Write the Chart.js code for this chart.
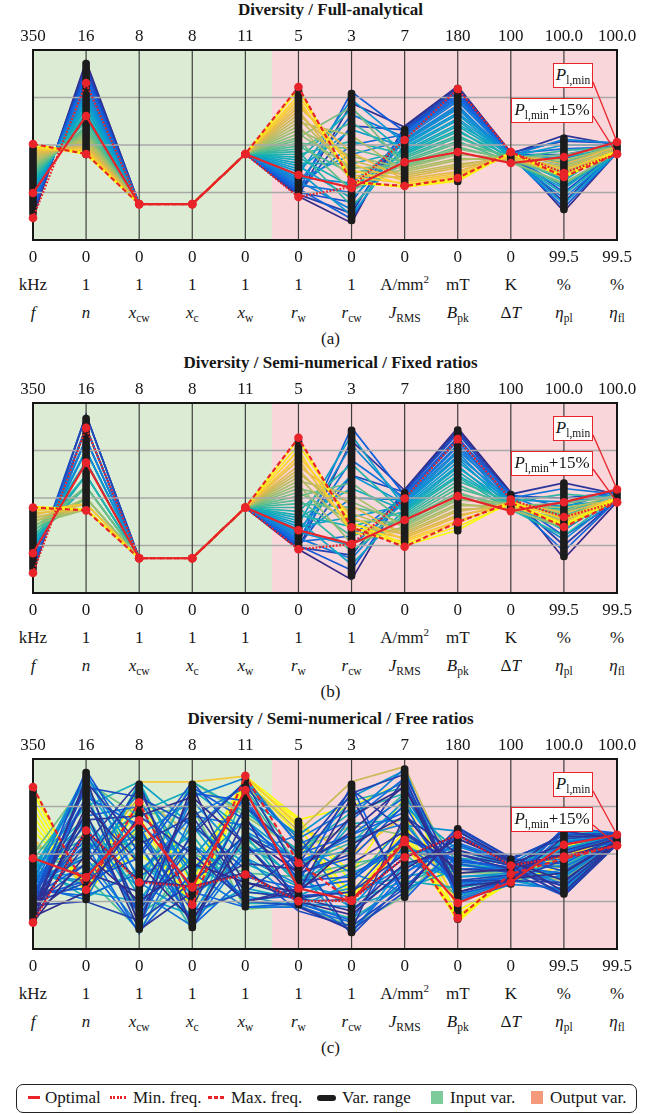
<!DOCTYPE html>
<html>
<head>
<meta charset="utf-8">
<script src="https://cdn.jsdelivr.net/npm/chart.js@4.4.1/dist/chart.umd.min.js"></script>
<style>
  html, body { margin: 0; padding: 0; background: #fff; }
  body { width: 661px; height: 1114px; position: relative; overflow: hidden;
         font-family: "Liberation Serif", "Tinos", "Nimbus Roman", "FreeSerif", "Times New Roman", "Times", "Noto Serif", "DejaVu Serif", serif;
         color: #161616; }
  .panel { position: absolute; left: 0; width: 661px; height: 352px; }
  .panel canvas { position: absolute; left: 0; top: 24px; }
  .title { position: absolute; left: 0; top: 0; width: 661px; text-align: center;
           font-weight: bold; font-size: 17px; line-height: 20px; }
  .cell { position: absolute; transform: translateX(-50%); white-space: nowrap;
          font-size: 17px; line-height: 20px; text-align: center; }
  .name { font-style: italic; }
  .name sub, .note sub { font-style: normal; font-size: 11.5px; vertical-align: baseline;
                         position: relative; top: 4px; }
  .unit sup { font-size: 11px; vertical-align: baseline; position: relative; top: -7px; }
  .up { font-style: normal; }
  .tag { position: absolute; left: 0; width: 661px; text-align: center; font-size: 17px; line-height: 20px; }
  .note { position: absolute; box-sizing: border-box; height: 25px; background: #fff;
          border: 1.6px solid #E8232A; font-size: 17px; line-height: 21px; text-align: center;
          white-space: nowrap; }
  .legend-box { position: absolute; left: 16px; top: 1084px; width: 621px; height: 29px;
                box-sizing: border-box; border: 1.6px solid #222; border-radius: 7px; }
  .lg { position: absolute; }
  .lg-text { position: absolute; top: 1088px; font-size: 17px; line-height: 20px; white-space: nowrap; }
</style>
</head>
<body>
<div id="pa" class="panel" style="top:0px"></div>
<div id="pb" class="panel" style="top:353px"></div>
<div id="pc" class="panel" style="top:709px"></div>

<div class="legend-box"></div>
<div class="lg" style="left:28px;top:1096px;width:12px;height:3px;background:#E8232A"></div>
<div class="lg-text" style="left:45px">Optimal</div>
<div class="lg" style="left:110px;top:1096px;width:17px;height:3px;background:repeating-linear-gradient(90deg,#E8232A 0 2px,transparent 2px 3.4px)"></div>
<div class="lg-text" style="left:133px">Min. freq.</div>
<div class="lg" style="left:208px;top:1096px;width:16px;height:3px;background:repeating-linear-gradient(90deg,#E8232A 0 4px,transparent 4px 6px)"></div>
<div class="lg-text" style="left:231px">Max. freq.</div>
<div class="lg" style="left:317px;top:1095px;width:19px;height:6px;border-radius:3px;background:#1c1c1c"></div>
<div class="lg-text" style="left:342px">Var. range</div>
<div class="lg" style="left:431px;top:1091px;width:12px;height:13px;background:#7DCB9B"></div>
<div class="lg-text" style="left:450px">Input var.</div>
<div class="lg" style="left:531px;top:1091px;width:12px;height:13px;background:#F5997B"></div>
<div class="lg-text" style="left:550px">Output var.</div>

<script>
// ---- axes of the parallel-coordinates plots ----
const AXIS_KEYS = ['f', 'n', 'x_cw', 'x_c', 'x_w', 'r_w', 'r_cw', 'J_RMS', 'B_pk', 'dT', 'eta_pl', 'eta_fl'];
const TOP_TICKS = ['350', '16', '8', '8', '11', '5', '3', '7', '180', '100', '100.0', '100.0'];
const BOTTOM_TICKS = ['0', '0', '0', '0', '0', '0', '0', '0', '0', '0', '99.5', '99.5'];
const UNITS = ['kHz', '1', '1', '1', '1', '1', '1', 'A/mm<sup>2</sup>', 'mT', 'K', '%', '%'];
const NAMES = ['f', 'n', 'x<sub>cw</sub>', 'x<sub>c</sub>', 'x<sub>w</sub>', 'r<sub>w</sub>', 'r<sub>cw</sub>',
               'J<sub>RMS</sub>', 'B<sub>pk</sub>', '<span class="up">Δ</span>T', 'η<sub>pl</sub>', 'η<sub>fl</sub>'];
const GRID_LEVELS = [0.25, 0.5, 0.75];
const INPUT_AXES = 5;   // f .. x_w are inputs, the rest are outputs

// ---- (a) Full-analytical (values normalised to each axis range) ----
const optimalA = [0.247, 0.653, 0.189, 0.189, 0.453, 0.342, 0.274, 0.410, 0.463, 0.405, 0.437, 0.516];
const minFreqA = [0.116, 0.826, 0.189, 0.189, 0.453, 0.226, 0.280, 0.526, 0.795, 0.463, 0.353, 0.453];
const maxFreqA = [0.505, 0.453, 0.189, 0.189, 0.453, 0.805, 0.305, 0.284, 0.326, 0.463, 0.332, 0.453];
const rangeLoA = [0.121, 0.432, 0.189, 0.189, 0.453, 0.226, 0.084, 0.274, 0.290, 0.405, 0.142, 0.453];
const rangeHiA = [0.500, 0.947, 0.189, 0.189, 0.453, 0.805, 0.789, 0.600, 0.816, 0.463, 0.553, 0.516];
const designsA = [
  [0.12, 0.94, 0.189, 0.189, 0.453, 0.23, 0.09, 0.60, 0.81, 0.46, 0.15, 0.46],
  [0.13, 0.93, 0.189, 0.189, 0.453, 0.235, 0.72, 0.595, 0.805, 0.455, 0.55, 0.50],
  [0.14, 0.91, 0.189, 0.189, 0.453, 0.24, 0.14, 0.59, 0.80, 0.45, 0.20, 0.47],
  [0.15, 0.90, 0.189, 0.189, 0.453, 0.245, 0.60, 0.58, 0.79, 0.46, 0.52, 0.51],
  [0.16, 0.88, 0.189, 0.189, 0.453, 0.25, 0.20, 0.575, 0.78, 0.445, 0.25, 0.47],
  [0.17, 0.87, 0.189, 0.189, 0.453, 0.26, 0.78, 0.57, 0.77, 0.45, 0.45, 0.50],
  [0.18, 0.85, 0.189, 0.189, 0.453, 0.27, 0.11, 0.56, 0.76, 0.44, 0.17, 0.46],
  [0.19, 0.84, 0.189, 0.189, 0.453, 0.28, 0.50, 0.555, 0.75, 0.455, 0.48, 0.49],
  [0.20, 0.82, 0.189, 0.189, 0.453, 0.29, 0.25, 0.55, 0.74, 0.44, 0.28, 0.47],
  [0.21, 0.81, 0.189, 0.189, 0.453, 0.30, 0.66, 0.54, 0.73, 0.45, 0.40, 0.50],
  [0.22, 0.79, 0.189, 0.189, 0.453, 0.31, 0.16, 0.53, 0.71, 0.43, 0.22, 0.46],
  [0.23, 0.78, 0.189, 0.189, 0.453, 0.32, 0.45, 0.525, 0.70, 0.445, 0.53, 0.51],
  [0.24, 0.76, 0.189, 0.189, 0.453, 0.33, 0.30, 0.52, 0.69, 0.43, 0.32, 0.48],
  [0.25, 0.75, 0.189, 0.189, 0.453, 0.345, 0.74, 0.51, 0.67, 0.45, 0.43, 0.49],
  [0.26, 0.73, 0.189, 0.189, 0.453, 0.36, 0.13, 0.50, 0.66, 0.435, 0.19, 0.46],
  [0.27, 0.72, 0.189, 0.189, 0.453, 0.375, 0.58, 0.49, 0.64, 0.44, 0.50, 0.50],
  [0.28, 0.70, 0.189, 0.189, 0.453, 0.39, 0.22, 0.48, 0.63, 0.42, 0.27, 0.47],
  [0.29, 0.69, 0.189, 0.189, 0.453, 0.405, 0.40, 0.47, 0.61, 0.45, 0.37, 0.49],
  [0.30, 0.67, 0.189, 0.189, 0.453, 0.42, 0.69, 0.46, 0.60, 0.43, 0.24, 0.46],
  [0.31, 0.66, 0.189, 0.189, 0.453, 0.435, 0.28, 0.455, 0.58, 0.41, 0.44, 0.48],
  [0.32, 0.64, 0.189, 0.189, 0.453, 0.45, 0.52, 0.45, 0.57, 0.44, 0.31, 0.50],
  [0.33, 0.63, 0.189, 0.189, 0.453, 0.465, 0.18, 0.44, 0.55, 0.42, 0.36, 0.47],
  [0.34, 0.62, 0.189, 0.189, 0.453, 0.48, 0.62, 0.43, 0.54, 0.43, 0.47, 0.49],
  [0.35, 0.60, 0.189, 0.189, 0.453, 0.495, 0.35, 0.42, 0.52, 0.41, 0.29, 0.46],
  [0.36, 0.59, 0.189, 0.189, 0.453, 0.51, 0.48, 0.41, 0.51, 0.44, 0.41, 0.50],
  [0.37, 0.58, 0.189, 0.189, 0.453, 0.525, 0.26, 0.40, 0.49, 0.42, 0.33, 0.47],
  [0.38, 0.57, 0.189, 0.189, 0.453, 0.54, 0.70, 0.39, 0.48, 0.43, 0.45, 0.49],
  [0.39, 0.56, 0.189, 0.189, 0.453, 0.56, 0.38, 0.385, 0.46, 0.41, 0.30, 0.46],
  [0.40, 0.55, 0.189, 0.189, 0.453, 0.58, 0.44, 0.38, 0.45, 0.43, 0.39, 0.48],
  [0.41, 0.54, 0.189, 0.189, 0.453, 0.60, 0.32, 0.37, 0.43, 0.42, 0.35, 0.47],
  [0.42, 0.53, 0.189, 0.189, 0.453, 0.62, 0.55, 0.36, 0.42, 0.44, 0.42, 0.49],
  [0.43, 0.52, 0.189, 0.189, 0.453, 0.64, 0.36, 0.35, 0.40, 0.43, 0.34, 0.46],
  [0.44, 0.51, 0.189, 0.189, 0.453, 0.66, 0.42, 0.34, 0.39, 0.44, 0.38, 0.48],
  [0.45, 0.50, 0.189, 0.189, 0.453, 0.68, 0.34, 0.33, 0.38, 0.43, 0.36, 0.47],
  [0.46, 0.49, 0.189, 0.189, 0.453, 0.70, 0.46, 0.32, 0.36, 0.45, 0.40, 0.49],
  [0.47, 0.48, 0.189, 0.189, 0.453, 0.72, 0.40, 0.31, 0.35, 0.44, 0.34, 0.46],
  [0.48, 0.47, 0.189, 0.189, 0.453, 0.74, 0.33, 0.30, 0.34, 0.45, 0.37, 0.47],
  [0.49, 0.46, 0.189, 0.189, 0.453, 0.76, 0.37, 0.29, 0.33, 0.46, 0.33, 0.46],
  [0.50, 0.45, 0.189, 0.189, 0.453, 0.79, 0.31, 0.28, 0.31, 0.46, 0.34, 0.47],
  [0.505, 0.455, 0.189, 0.189, 0.453, 0.80, 0.30, 0.28, 0.32, 0.46, 0.33, 0.46]
];

// ---- (b) Semi-numerical / fixed ratios ----
const optimalB = [0.209, 0.686, 0.183, 0.183, 0.450, 0.330, 0.257, 0.384, 0.510, 0.431, 0.478, 0.545];
const minFreqB = [0.105, 0.869, 0.183, 0.183, 0.450, 0.230, 0.257, 0.497, 0.810, 0.492, 0.400, 0.478];
const maxFreqB = [0.450, 0.435, 0.183, 0.183, 0.450, 0.817, 0.346, 0.243, 0.373, 0.476, 0.347, 0.478];
const rangeLoB = [0.110, 0.440, 0.183, 0.183, 0.450, 0.230, 0.073, 0.248, 0.309, 0.419, 0.174, 0.478];
const rangeHiB = [0.455, 0.937, 0.183, 0.183, 0.450, 0.817, 0.874, 0.545, 0.876, 0.536, 0.597, 0.545];
const designsB = [
  [0.11, 0.937, 0.183, 0.183, 0.450, 0.23, 0.07, 0.545, 0.87, 0.53, 0.18, 0.48],
  [0.12, 0.937, 0.183, 0.183, 0.450, 0.235, 0.80, 0.54, 0.86, 0.52, 0.58, 0.52],
  [0.13, 0.87, 0.183, 0.183, 0.450, 0.24, 0.20, 0.535, 0.85, 0.50, 0.25, 0.49],
  [0.14, 0.937, 0.183, 0.183, 0.450, 0.245, 0.62, 0.53, 0.84, 0.51, 0.50, 0.53],
  [0.15, 0.87, 0.183, 0.183, 0.450, 0.25, 0.12, 0.52, 0.82, 0.49, 0.30, 0.48],
  [0.16, 0.81, 0.183, 0.183, 0.450, 0.26, 0.87, 0.515, 0.81, 0.52, 0.45, 0.54],
  [0.17, 0.87, 0.183, 0.183, 0.450, 0.27, 0.30, 0.51, 0.80, 0.48, 0.22, 0.49],
  [0.18, 0.81, 0.183, 0.183, 0.450, 0.28, 0.70, 0.50, 0.78, 0.50, 0.55, 0.52],
  [0.19, 0.75, 0.183, 0.183, 0.450, 0.29, 0.18, 0.495, 0.77, 0.47, 0.35, 0.49],
  [0.20, 0.81, 0.183, 0.183, 0.450, 0.30, 0.50, 0.49, 0.75, 0.51, 0.40, 0.53],
  [0.21, 0.75, 0.183, 0.183, 0.450, 0.31, 0.78, 0.48, 0.74, 0.46, 0.28, 0.50],
  [0.22, 0.69, 0.183, 0.183, 0.450, 0.32, 0.25, 0.475, 0.72, 0.49, 0.48, 0.52],
  [0.23, 0.75, 0.183, 0.183, 0.450, 0.335, 0.62, 0.47, 0.71, 0.45, 0.38, 0.50],
  [0.24, 0.69, 0.183, 0.183, 0.450, 0.35, 0.40, 0.46, 0.69, 0.48, 0.33, 0.51],
  [0.25, 0.62, 0.183, 0.183, 0.450, 0.365, 0.83, 0.45, 0.67, 0.44, 0.46, 0.49],
  [0.26, 0.69, 0.183, 0.183, 0.450, 0.38, 0.15, 0.44, 0.66, 0.47, 0.42, 0.52],
  [0.27, 0.62, 0.183, 0.183, 0.450, 0.395, 0.55, 0.435, 0.64, 0.45, 0.36, 0.50],
  [0.28, 0.56, 0.183, 0.183, 0.450, 0.41, 0.35, 0.43, 0.62, 0.46, 0.44, 0.49],
  [0.29, 0.62, 0.183, 0.183, 0.450, 0.43, 0.68, 0.42, 0.61, 0.44, 0.30, 0.51],
  [0.30, 0.56, 0.183, 0.183, 0.450, 0.45, 0.22, 0.41, 0.59, 0.48, 0.52, 0.50],
  [0.31, 0.50, 0.183, 0.183, 0.450, 0.47, 0.45, 0.40, 0.57, 0.45, 0.37, 0.52],
  [0.32, 0.56, 0.183, 0.183, 0.450, 0.49, 0.30, 0.39, 0.55, 0.47, 0.41, 0.49],
  [0.33, 0.50, 0.183, 0.183, 0.450, 0.51, 0.58, 0.38, 0.53, 0.44, 0.34, 0.50],
  [0.34, 0.56, 0.183, 0.183, 0.450, 0.53, 0.38, 0.37, 0.52, 0.46, 0.47, 0.51],
  [0.35, 0.50, 0.183, 0.183, 0.450, 0.55, 0.48, 0.36, 0.50, 0.45, 0.39, 0.49],
  [0.36, 0.44, 0.183, 0.183, 0.450, 0.57, 0.26, 0.35, 0.49, 0.47, 0.43, 0.52],
  [0.37, 0.50, 0.183, 0.183, 0.450, 0.59, 0.52, 0.34, 0.47, 0.44, 0.35, 0.50],
  [0.38, 0.44, 0.183, 0.183, 0.450, 0.61, 0.33, 0.33, 0.46, 0.46, 0.45, 0.49],
  [0.39, 0.47, 0.183, 0.183, 0.450, 0.63, 0.42, 0.32, 0.44, 0.45, 0.38, 0.51],
  [0.40, 0.44, 0.183, 0.183, 0.450, 0.65, 0.36, 0.31, 0.43, 0.47, 0.40, 0.50],
  [0.41, 0.47, 0.183, 0.183, 0.450, 0.67, 0.46, 0.30, 0.41, 0.46, 0.36, 0.49],
  [0.42, 0.44, 0.183, 0.183, 0.450, 0.70, 0.34, 0.29, 0.40, 0.48, 0.42, 0.50],
  [0.43, 0.47, 0.183, 0.183, 0.450, 0.72, 0.40, 0.28, 0.38, 0.47, 0.37, 0.51],
  [0.44, 0.44, 0.183, 0.183, 0.450, 0.75, 0.32, 0.27, 0.37, 0.48, 0.39, 0.50],
  [0.45, 0.44, 0.183, 0.183, 0.450, 0.78, 0.37, 0.26, 0.35, 0.47, 0.35, 0.49],
  [0.455, 0.44, 0.183, 0.183, 0.450, 0.81, 0.35, 0.25, 0.33, 0.48, 0.36, 0.50]
];

// ---- (c) Semi-numerical / free ratios ----
const optimalC = [0.478, 0.377, 0.677, 0.324, 0.836, 0.319, 0.254, 0.563, 0.242, 0.351, 0.549, 0.601];
const minFreqC = [0.139, 0.624, 0.351, 0.328, 0.392, 0.252, 0.254, 0.483, 0.601, 0.439, 0.487, 0.545];
const maxFreqC = [0.853, 0.312, 0.772, 0.233, 0.912, 0.453, 0.254, 0.575, 0.162, 0.395, 0.475, 0.545];
const rangeLoC = [0.140, 0.242, 0.086, 0.095, 0.205, 0.215, 0.069, 0.254, 0.139, 0.324, 0.272, 0.545];
const rangeHiC = [0.850, 0.947, 0.885, 0.885, 0.910, 0.690, 0.885, 0.965, 0.651, 0.492, 0.642, 0.620];
const designsC = [
  [0.14, 0.50, 0.25, 0.45, 0.35, 0.30, 0.55, 0.70, 0.40, 0.42, 0.50, 0.58],
  [0.15, 0.62, 0.36, 0.33, 0.40, 0.25, 0.26, 0.48, 0.60, 0.44, 0.49, 0.55],
  [0.16, 0.75, 0.45, 0.15, 0.60, 0.40, 0.70, 0.85, 0.30, 0.37, 0.40, 0.57],
  [0.17, 0.30, 0.70, 0.80, 0.55, 0.25, 0.18, 0.42, 0.58, 0.46, 0.36, 0.56],
  [0.18, 0.90, 0.12, 0.86, 0.25, 0.30, 0.80, 0.30, 0.62, 0.47, 0.30, 0.56],
  [0.19, 0.40, 0.30, 0.75, 0.35, 0.27, 0.20, 0.45, 0.52, 0.45, 0.55, 0.60],
  [0.19, 0.72, 0.10, 0.30, 0.45, 0.42, 0.62, 0.86, 0.33, 0.36, 0.59, 0.60],
  [0.20, 0.55, 0.88, 0.10, 0.70, 0.22, 0.10, 0.70, 0.50, 0.42, 0.62, 0.58],
  [0.21, 0.68, 0.70, 0.50, 0.25, 0.32, 0.45, 0.62, 0.42, 0.41, 0.33, 0.56],
  [0.21, 0.88, 0.55, 0.70, 0.30, 0.27, 0.30, 0.50, 0.50, 0.44, 0.28, 0.55],
  [0.22, 0.80, 0.20, 0.60, 0.88, 0.40, 0.50, 0.90, 0.30, 0.36, 0.35, 0.57],
  [0.23, 0.25, 0.15, 0.35, 0.60, 0.45, 0.82, 0.92, 0.36, 0.36, 0.47, 0.58],
  [0.23, 0.45, 0.85, 0.22, 0.75, 0.50, 0.84, 0.62, 0.36, 0.39, 0.52, 0.59],
  [0.24, 0.35, 0.60, 0.20, 0.30, 0.50, 0.07, 0.35, 0.64, 0.48, 0.58, 0.60],
  [0.25, 0.85, 0.80, 0.65, 0.42, 0.20, 0.12, 0.32, 0.60, 0.47, 0.60, 0.61],
  [0.25, 0.62, 0.18, 0.55, 0.25, 0.23, 0.10, 0.30, 0.63, 0.48, 0.41, 0.57],
  [0.26, 0.94, 0.50, 0.88, 0.55, 0.28, 0.30, 0.60, 0.45, 0.40, 0.28, 0.55],
  [0.27, 0.58, 0.20, 0.82, 0.78, 0.36, 0.38, 0.58, 0.47, 0.43, 0.29, 0.55],
  [0.27, 0.36, 0.48, 0.85, 0.68, 0.40, 0.48, 0.76, 0.29, 0.35, 0.64, 0.61],
  [0.28, 0.45, 0.09, 0.40, 0.80, 0.35, 0.86, 0.26, 0.55, 0.45, 0.45, 0.59],
  [0.29, 0.32, 0.55, 0.15, 0.52, 0.50, 0.60, 0.72, 0.33, 0.38, 0.51, 0.59],
  [0.29, 0.80, 0.65, 0.12, 0.38, 0.32, 0.36, 0.58, 0.46, 0.43, 0.33, 0.56],
  [0.30, 0.70, 0.75, 0.30, 0.22, 0.24, 0.15, 0.55, 0.35, 0.38, 0.52, 0.56],
  [0.31, 0.28, 0.40, 0.70, 0.65, 0.45, 0.60, 0.80, 0.42, 0.43, 0.40, 0.58],
  [0.31, 0.55, 0.08, 0.62, 0.88, 0.55, 0.68, 0.90, 0.26, 0.34, 0.56, 0.60],
  [0.32, 0.78, 0.38, 0.55, 0.26, 0.28, 0.09, 0.40, 0.56, 0.46, 0.43, 0.57],
  [0.33, 0.85, 0.30, 0.12, 0.50, 0.60, 0.20, 0.40, 0.58, 0.47, 0.60, 0.61],
  [0.33, 0.26, 0.78, 0.40, 0.22, 0.22, 0.14, 0.36, 0.60, 0.47, 0.47, 0.58],
  [0.34, 0.48, 0.12, 0.70, 0.85, 0.58, 0.74, 0.88, 0.27, 0.35, 0.61, 0.60],
  [0.35, 0.50, 0.82, 0.55, 0.35, 0.30, 0.70, 0.95, 0.25, 0.34, 0.32, 0.56],
  [0.35, 0.93, 0.35, 0.18, 0.62, 0.46, 0.58, 0.66, 0.34, 0.38, 0.38, 0.57],
  [0.36, 0.65, 0.15, 0.80, 0.90, 0.55, 0.40, 0.30, 0.48, 0.41, 0.55, 0.59],
  [0.37, 0.90, 0.62, 0.28, 0.48, 0.24, 0.22, 0.52, 0.50, 0.44, 0.34, 0.56],
  [0.37, 0.48, 0.60, 0.78, 0.48, 0.34, 0.27, 0.44, 0.54, 0.45, 0.60, 0.60],
  [0.38, 0.40, 0.65, 0.45, 0.28, 0.22, 0.35, 0.65, 0.62, 0.46, 0.38, 0.57],
  [0.39, 0.36, 0.86, 0.42, 0.68, 0.46, 0.52, 0.78, 0.38, 0.40, 0.57, 0.59],
  [0.39, 0.68, 0.22, 0.48, 0.80, 0.60, 0.80, 0.94, 0.28, 0.36, 0.31, 0.56],
  [0.40, 0.92, 0.45, 0.25, 0.75, 0.42, 0.08, 0.45, 0.38, 0.39, 0.63, 0.60],
  [0.41, 0.70, 0.28, 0.18, 0.32, 0.26, 0.32, 0.38, 0.44, 0.42, 0.39, 0.57],
  [0.41, 0.34, 0.88, 0.65, 0.30, 0.28, 0.40, 0.52, 0.47, 0.42, 0.53, 0.59],
  [0.42, 0.30, 0.25, 0.65, 0.45, 0.33, 0.55, 0.75, 0.52, 0.44, 0.46, 0.58],
  [0.43, 0.52, 0.72, 0.84, 0.62, 0.34, 0.66, 0.68, 0.30, 0.37, 0.53, 0.60],
  [0.43, 0.85, 0.45, 0.30, 0.55, 0.38, 0.22, 0.32, 0.42, 0.41, 0.44, 0.57],
  [0.44, 0.75, 0.88, 0.35, 0.60, 0.26, 0.25, 0.36, 0.32, 0.37, 0.30, 0.55],
  [0.45, 0.27, 0.42, 0.60, 0.24, 0.24, 0.16, 0.34, 0.48, 0.45, 0.45, 0.58],
  [0.45, 0.58, 0.32, 0.88, 0.72, 0.52, 0.72, 0.82, 0.32, 0.37, 0.58, 0.60],
  [0.46, 0.55, 0.55, 0.10, 0.84, 0.48, 0.78, 0.85, 0.45, 0.42, 0.56, 0.60],
  [0.47, 0.82, 0.18, 0.38, 0.82, 0.44, 0.56, 0.82, 0.34, 0.39, 0.62, 0.61],
  [0.48, 0.38, 0.10, 0.50, 0.40, 0.38, 0.45, 0.50, 0.28, 0.35, 0.42, 0.57],
  [0.49, 0.42, 0.62, 0.15, 0.58, 0.36, 0.42, 0.55, 0.40, 0.41, 0.37, 0.57],
  [0.50, 0.88, 0.70, 0.75, 0.21, 0.23, 0.12, 0.28, 0.55, 0.46, 0.50, 0.59],
  [0.52, 0.60, 0.35, 0.88, 0.70, 0.52, 0.65, 0.60, 0.40, 0.40, 0.36, 0.56],
  [0.55, 0.45, 0.80, 0.60, 0.88, 0.62, 0.88, 0.96, 0.35, 0.38, 0.58, 0.61],
  [0.58, 0.33, 0.88, 0.88, 0.91, 0.65, 0.50, 0.70, 0.25, 0.40, 0.48, 0.59],
  [0.62, 0.35, 0.50, 0.30, 0.89, 0.68, 0.75, 0.88, 0.20, 0.36, 0.54, 0.60],
  [0.66, 0.32, 0.70, 0.20, 0.86, 0.58, 0.30, 0.62, 0.18, 0.35, 0.44, 0.58],
  [0.70, 0.31, 0.85, 0.40, 0.90, 0.66, 0.40, 0.80, 0.16, 0.37, 0.50, 0.59],
  [0.74, 0.29, 0.60, 0.25, 0.88, 0.64, 0.28, 0.58, 0.15, 0.38, 0.46, 0.58],
  [0.78, 0.30, 0.75, 0.35, 0.91, 0.69, 0.35, 0.66, 0.14, 0.39, 0.52, 0.59],
  [0.82, 0.31, 0.65, 0.22, 0.89, 0.60, 0.25, 0.55, 0.17, 0.38, 0.48, 0.58],
  [0.85, 0.30, 0.80, 0.28, 0.90, 0.55, 0.26, 0.60, 0.16, 0.39, 0.49, 0.58]
];

const RED = '#E8232A';
const FONT = "'Liberation Serif', 'Tinos', 'Nimbus Roman', 'FreeSerif', 'Times New Roman', 'Times', 'Noto Serif', 'DejaVu Serif', serif";

// blue -> yellow colour map used for the design lines (by switching frequency)
const PARULA = [
  [0.000, [53, 42, 135]], [0.125, [15, 92, 221]], [0.250, [18, 125, 216]],
  [0.375, [7, 156, 207]], [0.500, [21, 177, 180]], [0.625, [89, 189, 140]],
  [0.750, [165, 190, 107]], [0.875, [225, 185, 74]], [0.950, [252, 206, 46]],
  [1.000, [249, 251, 14]]
];
function parula(t) {
  t = Math.max(0, Math.min(1, t));
  for (let i = 1; i < PARULA.length; i++) {
    if (t <= PARULA[i][0]) {
      const [t0, c0] = PARULA[i - 1], [t1, c1] = PARULA[i];
      const k = (t - t0) / (t1 - t0);
      const c = c0.map((v, j) => Math.round(v + (c1[j] - v) * k));
      return `rgb(${c[0]},${c[1]},${c[2]})`;
    }
  }
  return 'rgb(249,251,14)';
}

// backgrounds, grid, plot frame and the callout connectors
const decor = {
  id: 'decor',
  beforeDatasetsDraw(chart) {
    const { ctx, chartArea: a, scales: { x } } = chart;
    const split = (x.getPixelForValue(INPUT_AXES - 1) + x.getPixelForValue(INPUT_AXES)) / 2;
    ctx.save();
    ctx.fillStyle = '#DCEBD4';
    ctx.fillRect(a.left, a.top, split - a.left, a.bottom - a.top);
    ctx.fillStyle = '#F9D6DA';
    ctx.fillRect(split, a.top, a.right - split, a.bottom - a.top);
    ctx.restore();
  },
  afterDatasetDraw(chart, args) {
    if (!chart.data.datasets[args.index].gridAfter) return;
    const { ctx, chartArea: a, scales: { x, y } } = chart;
    ctx.save();
    ctx.strokeStyle = '#A9A9A9';
    ctx.lineWidth = 1.6;
    GRID_LEVELS.forEach(v => {
      const py = y.getPixelForValue(v);
      ctx.beginPath(); ctx.moveTo(a.left, py); ctx.lineTo(a.right, py); ctx.stroke();
    });
    ctx.strokeStyle = '#3e3e3e';
    ctx.lineWidth = 1.2;
    for (let i = 1; i < AXIS_KEYS.length - 1; i++) {
      const px = x.getPixelForValue(i);
      ctx.beginPath(); ctx.moveTo(px, a.top); ctx.lineTo(px, a.bottom); ctx.stroke();
    }
    ctx.strokeStyle = '#151515';
    ctx.lineWidth = 2;
    ctx.strokeRect(a.left, a.top, a.right - a.left, a.bottom - a.top);
    ctx.restore();
  },
  afterDatasetsDraw(chart, args, opts) {
    const { ctx, chartArea: a, scales: { x, y } } = chart;
    const last = AXIS_KEYS.length - 1;
    const px = x.getPixelForValue(last);
    ctx.save();
    ctx.strokeStyle = RED;
    ctx.lineWidth = 1.3;
    opts.links.forEach(l => {
      ctx.beginPath();
      ctx.moveTo(a.right - 24, a.top + l.dy);
      ctx.lineTo(px, y.getPixelForValue(l.value));
      ctx.stroke();
    });
    ctx.restore();
  }
};

// colorScale: [f low, f high, contrast exponent, draw high frequencies first]
function buildPanel(hostId, title, tag, optimal, minFreq, maxFreq, rangeLo, rangeHi, designList, colorScale) {
  const host = document.getElementById(hostId);
  const t = document.createElement('div');
  t.className = 'title';
  t.textContent = title;
  host.appendChild(t);

  const canvas = document.createElement('canvas');
  canvas.width = 661; canvas.height = 246;
  canvas.style.width = '661px'; canvas.style.height = '246px';
  host.appendChild(canvas);

  const fs = designList.map(d => d[0]);
  const lo = colorScale ? colorScale[0] : Math.min(...fs);
  const hi = colorScale ? colorScale[1] : Math.max(...fs);
  const gamma = colorScale ? colorScale[2] : 1;
  const highFirst = colorScale ? colorScale[3] : false;
  // drawing sequence: the first entry is painted first (lowest layer)
  const designs = designList.slice().sort((p, q) => highFirst ? q[0] - p[0] : p[0] - q[0]);
  const colorOf = f => parula(Math.pow(Math.max(0, Math.min(1, (f - lo) / (hi - lo))), gamma));
  const N = designs.length;
  const redLine = (label, data, dash, order) => ({
    label, data, borderColor: RED, backgroundColor: RED, borderWidth: 2.2, borderDash: dash,
    pointRadius: 4.3, pointBackgroundColor: RED, pointBorderWidth: 0, order, clip: false
  });
  const datasets = [
    redLine('Optimal', optimal, [], 0),
    redLine('Max. freq.', maxFreq, [5, 3], 0.1),
    redLine('Min. freq.', minFreq, [1.8, 1.6], 0.2),
    {
      type: 'bar', label: 'Var. range', data: rangeLo.map((v, i) => [v, rangeHi[i]]),
      backgroundColor: '#1c1c1c', barThickness: 7, borderRadius: 3.5, borderSkipped: false,
      order: 1, clip: false
    }
  ];
  designs.forEach((d, i) => {
    datasets.push({
      label: 'design', data: d, borderColor: colorOf(d[0]),
      borderWidth: 1.7, pointRadius: 0, order: 10 + (N - 1 - i), gridAfter: i === N - 1
    });
  });

  const tickFont = { family: FONT, size: 17 };
  const chart = new Chart(canvas, {
    type: 'line',
    data: { labels: AXIS_KEYS, datasets },
    options: {
      responsive: false, animation: false, devicePixelRatio: 1,
      layout: { padding: { left: 33, right: 44, top: 0, bottom: 6 } },
      plugins: {
        legend: { display: false }, tooltip: { enabled: false },
        decor: { links: [{ dy: 32, value: optimal[AXIS_KEYS.length - 1] },
                         { dy: 66, value: minFreq[AXIS_KEYS.length - 1] }] }
      },
      scales: {
        x: {
          type: 'category', position: 'bottom', offset: false,
          grid: { display: false, drawTicks: false, offset: false }, border: { display: false },
          ticks: { callback: (v, i) => BOTTOM_TICKS[i], padding: 7, autoSkip: false, maxRotation: 0,
                   color: '#161616', font: tickFont },
          afterFit: s => { s.height = 24; }
        },
        xTop: {
          type: 'category', position: 'top', offset: false, labels: TOP_TICKS,
          grid: { display: false, drawTicks: false, offset: false }, border: { display: false },
          ticks: { padding: 3, autoSkip: false, maxRotation: 0, color: '#161616', font: tickFont },
          afterFit: s => { s.height = 26; }
        },
        y: { min: 0, max: 1, display: false }
      }
    },
    plugins: [decor]
  });

  const xs = AXIS_KEYS.map((k, i) => chart.scales.x.getPixelForValue(i));
  const addRow = (items, top, cls) => items.forEach((html, i) => {
    const c = document.createElement('div');
    c.className = 'cell ' + cls;
    c.style.left = xs[i] + 'px';
    c.style.top = top + 'px';
    c.innerHTML = html;
    host.appendChild(c);
  });
  addRow(UNITS, 275, 'unit');
  addRow(NAMES, 303, 'name');

  const tg = document.createElement('div');
  tg.className = 'tag';
  tg.style.top = '329px';
  tg.textContent = tag;
  host.appendChild(tg);

  const a = chart.chartArea;
  const n1 = document.createElement('div');
  n1.className = 'note';
  n1.style.left = (a.right - 64) + 'px';
  n1.style.top = (24 + a.top + 13) + 'px';
  n1.style.width = '40px';
  n1.innerHTML = '<i>P</i><sub>l,min</sub>';
  host.appendChild(n1);
  const n2 = document.createElement('div');
  n2.className = 'note';
  n2.style.left = (a.right - 106) + 'px';
  n2.style.top = (24 + a.top + 48) + 'px';
  n2.style.width = '82px';
  n2.innerHTML = '<i>P</i><sub>l,min</sub>+15%';
  host.appendChild(n2);
}

buildPanel('pa', 'Diversity / Full-analytical', '(a)', optimalA, minFreqA, maxFreqA, rangeLoA, rangeHiA, designsA, null);
buildPanel('pb', 'Diversity / Semi-numerical / Fixed ratios', '(b)', optimalB, minFreqB, maxFreqB, rangeLoB, rangeHiB, designsB, null);
buildPanel('pc', 'Diversity / Semi-numerical / Free ratios', '(c)', optimalC, minFreqC, maxFreqC, rangeLoC, rangeHiC, designsC, [0.14, 0.60, 1.7, true]);
</script>
</body>
</html>
